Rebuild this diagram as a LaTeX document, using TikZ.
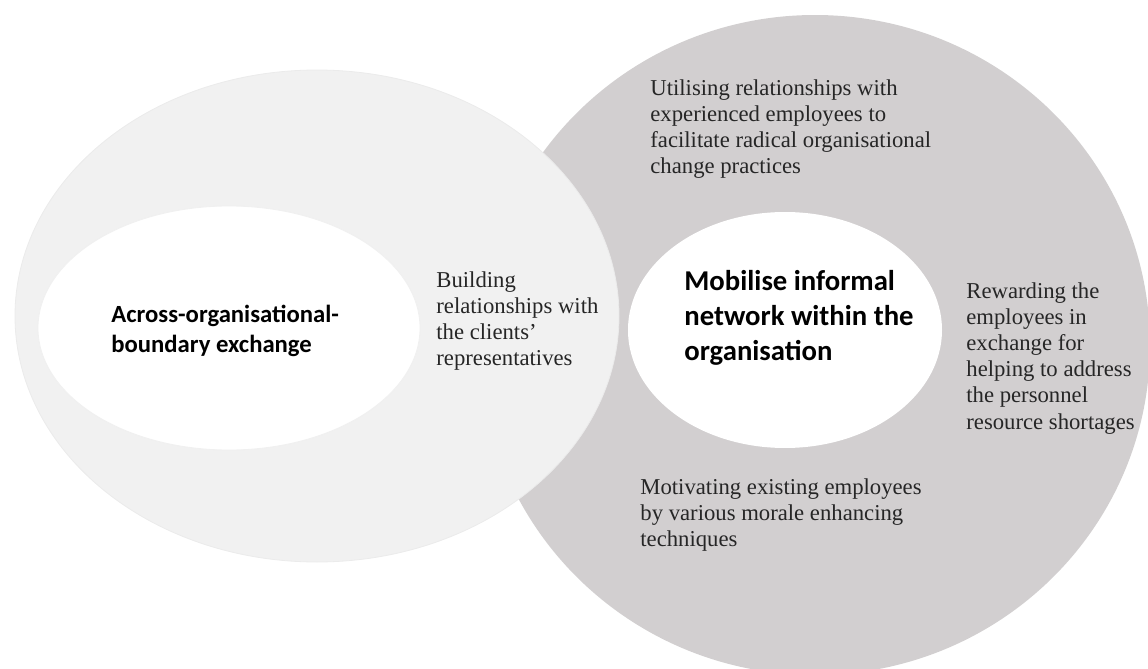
\documentclass[tikz,border=0pt]{standalone}
\usepackage{fontspec}
\setmainfont{Liberation Serif}
\newfontfamily\carlito{Carlito}
\usetikzlibrary{shapes.geometric}

\definecolor{networkgray}{RGB}{210,207,208}
\definecolor{exchangegray}{RGB}{241,241,241}

\tikzset{
    zone/.style={ellipse, inner sep=0pt, outer sep=0pt},
    note/.style={anchor=north west, inner sep=0pt, align=left, text=black!85,
                 font=\fontsize{11.35}{13.1}\selectfont},
    hub/.style 2 args={anchor=north west, inner sep=0pt, align=left, text=black,
                 font=\carlito\bfseries\fontsize{#1}{#2}\selectfont}
}

\begin{document}
\begin{tikzpicture}[x=0.5pt, y=-0.5pt]
                \useasboundingbox (0,0) rectangle (1148,669);
                \node[zone, fill=networkgray, minimum width=335pt, minimum height=330pt] (network) at (815,345) {};
                \node[zone, fill=exchangegray, draw=black!8, minimum width=302pt, minimum height=246pt] (exchange) at (317,316) {};
                \node[zone, fill=white, draw=black!6, minimum width=191pt, minimum height=122pt] (boundary) at (229,328) {};
                \node[zone, fill=white, minimum width=157pt, minimum height=118pt] (informal) at (785,330) {};
                \node[hub={12.35}{15}] (boundarytext) at (111,305) {Across-organisational-\\boundary exchange};
                \node[hub={14.35}{17.5}] (informaltext) at (684,270) {Mobilise informal\\network within the\\organisation};
                \node[note] (building) at (436,271) {Building\\relationships with\\the clients'\\representatives};
                \node[note] (utilising) at (650,79) {Utilising relationships with\\experienced employees to\\facilitate radical organisational\\change practices};
                \node[note] (rewarding) at (966,282) {Rewarding the\\employees in\\exchange for\\helping to address\\the personnel\\resource shortages};
                \node[note] (motivating) at (640,478) {Motivating existing employees\\by various morale enhancing\\techniques};
            \end{tikzpicture}
\end{document}
